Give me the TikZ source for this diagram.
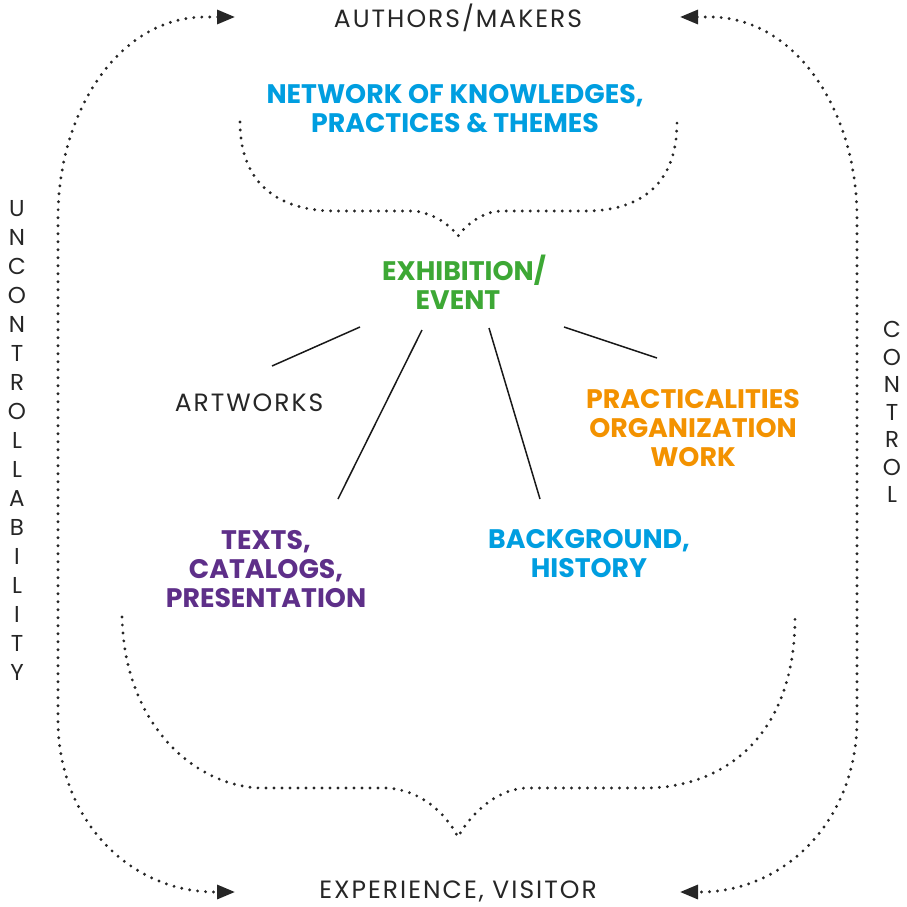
\documentclass[tikz,border=0pt]{standalone}
\usepackage{fontspec}
\setmainfont{Poppins}
\newfontfamily\widefont[LetterSpace=8]{Poppins}
\usetikzlibrary{arrows.meta}

\definecolor{netblue}{RGB}{0,158,224}
\definecolor{exgreen}{RGB}{61,168,53}
\definecolor{workorange}{RGB}{243,146,0}
\definecolor{textpurple}{RGB}{94,47,137}

\begin{document}
\begin{tikzpicture}[
    x=1pt, y=-1pt,
    plain/.style={font=\widefont\fontsize{25}{29}\selectfont, text=black!85, inner sep=0pt},
    heading/.style={font=\fontsize{26.8}{29}\selectfont\bfseries, align=center, inner sep=0pt},
    letters/.style={font=\fontsize{23}{29}\selectfont, text=black!85, align=center, inner sep=0pt},
    link/.style={line width=1.5pt, black!90},
    dots/.style={line width=3.2pt, dash pattern=on 0pt off 8pt, line cap=round, black!85},
    loop/.style={dots, {Triangle[length=18pt, width=14pt]}-{Triangle[length=18pt, width=14pt]}}
]
\useasboundingbox (0,0) rectangle (907,907);

% Top and bottom
\node[plain] (authors) at (458,18) {AUTHORS/MAKERS};
\node[plain] (visitor) at (458,891) {EXPERIENCE, VISITOR};

% Side labels
\node[letters] (uncontrol) at (17,440) {U\\N\\C\\O\\N\\T\\R\\O\\L\\L\\A\\B\\I\\L\\I\\T\\Y};
\node[letters, font=\fontsize{23}{27.5}\selectfont] (control) at (892,412) {C\\O\\N\\T\\R\\O\\L};

% Centre
\node[heading, text=netblue] (network) at (455,109) {NETWORK OF KNOWLEDGES,\\PRACTICES \& THEMES};
\node[heading, text=exgreen] (exhibit) at (458,282) {EXHIBITION\rlap{/}\\EVENT};

% Parts of the exhibition
\node[plain] (artworks) at (249,403) {ARTWORKS};
\node[heading, text=workorange] (practical) at (693,428) {PRACTICALITIES\\ORGANIZATION\\WORK};
\node[heading, text=textpurple] (texts) at (266,569) {TEXTS,\\CATALOGS,\\PRESENTATION};
\node[heading, text=netblue] (background) at (589,554) {BACKGROUND,\\HISTORY};

% Line ends
\coordinate (ex1) at (360,327);
\coordinate (ex2) at (422,330);
\coordinate (ex3) at (489,328);
\coordinate (ex4) at (564,327);
\coordinate (art) at (272,366);
\coordinate (txt) at (338,499);
\coordinate (bgr) at (540,499);
\coordinate (prc) at (657,358);

\draw[link] (ex1) -- (art);
\draw[link] (ex2) -- (txt);
\draw[link] (ex3) -- (bgr);
\draw[link] (ex4) -- (prc);

% Braces
\draw[dots] (240,122) .. controls (240,185) and (280,211) .. (335,211) -- (415,211)
    .. controls (435,214) and (450,225) .. (458,236)
    .. controls (466,225) and (482,212) .. (500,211) -- (585,211)
    .. controls (640,211) and (677,185) .. (677,122);
\draw[dots] (122,617) .. controls (125,730) and (200,788) .. (263,788) -- (387,788)
    .. controls (420,790) and (445,812) .. (458,837)
    .. controls (470,815) and (495,790) .. (525,788) -- (645,788)
    .. controls (720,788) and (795,740) .. (795,617);

% Outer loops
\draw[loop] (235,17) -- (205,17) .. controls (120,17) and (58,110) .. (58,218) -- (58,720)
    .. controls (58,820) and (130,892) .. (215,892) -- (235,892);
\draw[loop] (680,17) -- (710,17) .. controls (795,17) and (857,110) .. (857,218) -- (857,720)
    .. controls (857,820) and (785,892) .. (700,892) -- (680,892);

\end{tikzpicture}
\end{document}
